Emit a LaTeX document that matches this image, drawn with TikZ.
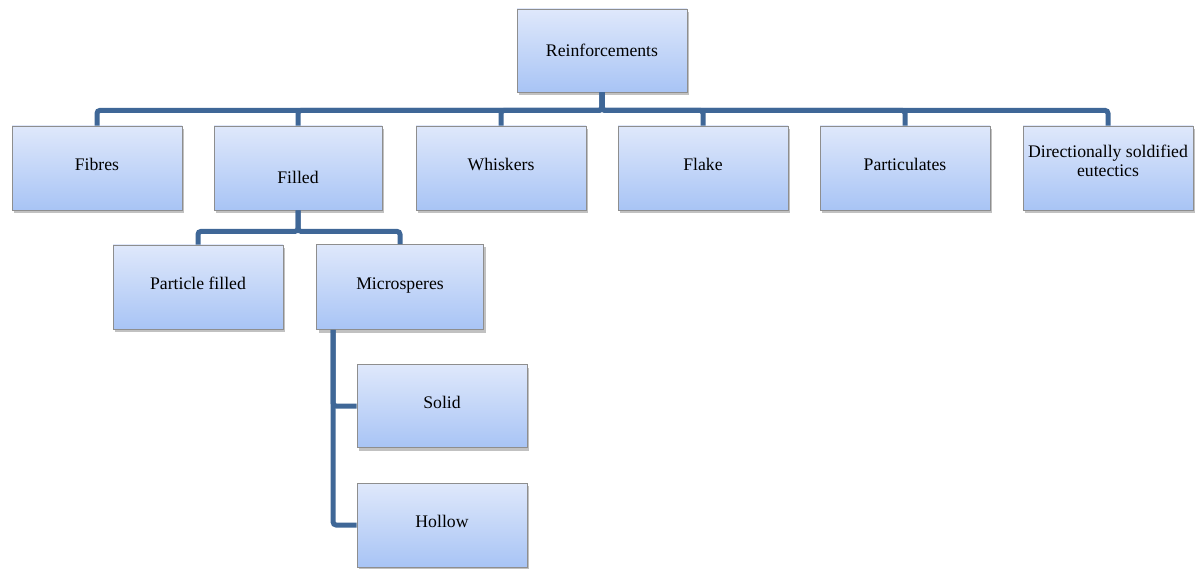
\documentclass[tikz,border=0pt]{standalone}
\usepackage{fontspec}
\setmainfont{Liberation Serif}
\usetikzlibrary{shadows}
\definecolor{boxtop}{HTML}{DFE8FB}
\definecolor{boxbot}{HTML}{A8C4F5}
\definecolor{boxline}{HTML}{8E8E8E}
\definecolor{conncol}{HTML}{3F6797}
% place text with its visual centre #1 below the node centre
\newcommand{\txtat}[2]{\raisebox{\dimexpr-6pt-#1\relax}[0pt][0pt]{#2}}
\tikzset{
  boxnode/.style={rectangle, draw=boxline, line width=0.8pt, top color=boxtop, bottom color=boxbot,
    minimum width=170pt, minimum height=84pt, inner sep=2pt, align=center,
    font=\fontsize{17.7}{19}\selectfont,
    drop shadow={shadow xshift=2pt, shadow yshift=-3pt, opacity=0.35, fill=black!70}},
  conn/.style={draw=conncol, line width=5pt, rounded corners=3pt}
}
\begin{document}
\begin{tikzpicture}[x=1pt,y=-1pt]
\useasboundingbox (0,0) rectangle (1196,569);
\node[boxnode, minimum width=170pt, minimum height=83pt] (root) at (602,50.5) {\txtat{0pt}{Reinforcements}};
\node[boxnode] (fibres) at (97,168) {\txtat{-3pt}{Fibres}};
\node[boxnode, minimum width=168pt] (filled) at (298,168) {\txtat{10pt}{Filled}};
\node[boxnode] (whiskers) at (501,168) {\txtat{-3pt}{Whiskers}};
\node[boxnode] (flake) at (703,168) {\txtat{-3pt}{Flake}};
\node[boxnode] (partic) at (905,168) {\txtat{-3pt}{Particulates}};
\node[boxnode] (dse) at (1108,168) {\raisebox{0pt}[0pt][0pt]{\begin{tabular}{@{}c@{}}Directionally soldified\\eutectics\end{tabular}}};
\node[boxnode] (pfill) at (198,287) {\txtat{-4pt}{Particle filled}};
\node[boxnode, minimum width=167pt, minimum height=85pt] (micro) at (400,287) {\txtat{-4pt}{Microsperes}};
\node[boxnode, minimum height=83pt] (solid) at (442,406) {\txtat{-4pt}{Solid}};
\node[boxnode] (hollow) at (442,525) {\txtat{-4pt}{Hollow}};
% connectors
\foreach \c in {fibres,filled,whiskers,flake,partic,dse}{
  \draw[conn] (root.south) -- ++(0,18) -| (\c.north);
}
\foreach \c in {pfill,micro}{
  \draw[conn] (filled.south) -- ++(0,21) -| (\c.north);
}
\coordinate (mstem) at ([xshift=17pt]micro.south west);
\draw[conn] (mstem) |- (solid.west);
\draw[conn] (mstem) |- (hollow.west);
\end{tikzpicture}
\end{document}
